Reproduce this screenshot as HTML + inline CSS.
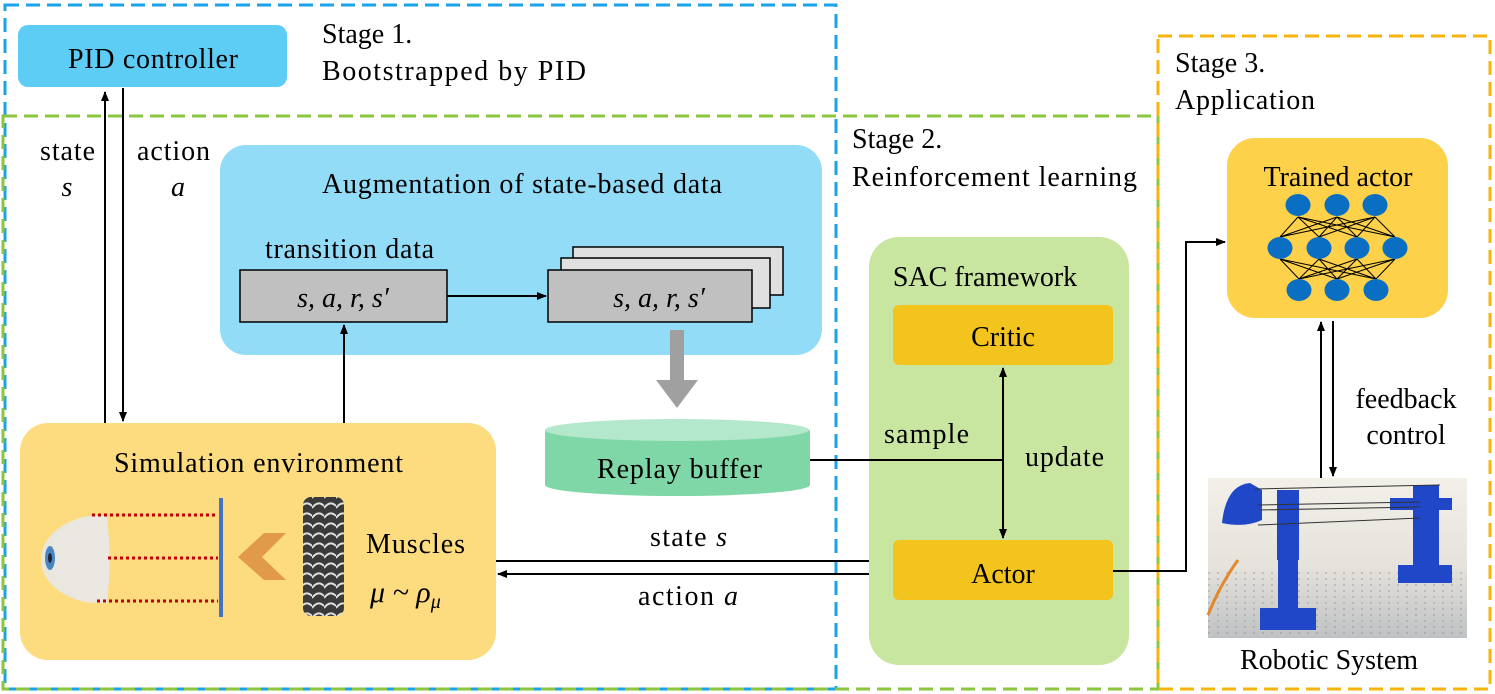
<!DOCTYPE html>
<html><head><meta charset="utf-8"><style>
html,body{margin:0;padding:0;background:#fff}
svg{display:block;font-family:"Liberation Serif",serif}
</style></head><body>
<svg width="1495" height="694" viewBox="0 0 1495 694" xmlns="http://www.w3.org/2000/svg" font-size="28">
<defs>
<marker id="ah" markerWidth="10" markerHeight="10" refX="9" refY="5" orient="auto" markerUnits="userSpaceOnUse"><path d="M0,1 L10,5 L0,9 z" fill="#000"/></marker>
<linearGradient id="floor" x1="0" y1="0" x2="0" y2="1"><stop offset="0" stop-color="#f3efe9"/><stop offset="0.55" stop-color="#e6e2dc"/><stop offset="1" stop-color="#bfc2c4"/></linearGradient>
<pattern id="holes" width="9" height="6" patternUnits="userSpaceOnUse"><circle cx="3" cy="3" r="1" fill="#8a8f94"/></pattern>
<pattern id="musc" width="12" height="10" patternUnits="userSpaceOnUse"><rect width="12" height="10" fill="#3a3a3a"/><path d="M0,8 Q6,0 12,6" stroke="#ddd" stroke-width="2" fill="none"/></pattern>
</defs>

<rect x="5" y="5" width="831" height="684" fill="none" stroke="#1aa3e8" stroke-width="3" stroke-dasharray="14,7"/>
<rect x="3" y="116" width="1155" height="573" fill="none" stroke="#8cc63f" stroke-width="3" stroke-dasharray="14,7"/>
<rect x="1158" y="36" width="332" height="653" fill="none" stroke="#f6b40e" stroke-width="3" stroke-dasharray="14,7"/>

<rect x="18" y="25" width="269" height="62" rx="10" fill="#5ecdf5"/>
<text x="68" y="68" textLength="170">PID controller</text>
<text x="322" y="43">Stage 1.</text>
<text x="322" y="80" textLength="264">Bootstrapped by PID</text>

<text x="852" y="148">Stage 2.</text>
<text x="852" y="186" textLength="285">Reinforcement learning</text>
<text x="1175" y="72">Stage 3.</text>
<text x="1175" y="109" textLength="140">Application</text>

<line x1="105" y1="423" x2="105" y2="92" stroke="#000" stroke-width="2" marker-end="url(#ah)"/>
<line x1="123" y1="88" x2="123" y2="421" stroke="#000" stroke-width="2" marker-end="url(#ah)"/>
<text x="40" y="160" textLength="55">state</text>
<text x="67" y="196" text-anchor="middle" font-style="italic">s</text>
<text x="137" y="160" textLength="73">action</text>
<text x="178" y="196" text-anchor="middle" font-style="italic">a</text>

<rect x="220" y="145" width="602" height="210" rx="26" fill="#92dcf7"/>
<text x="322" y="193" textLength="400">Augmentation of state-based data</text>
<text x="265" y="258" textLength="169">transition data</text>
<rect x="240" y="270" width="207" height="52" fill="#c0c0c0" stroke="#000" stroke-width="1.5"/>
<text x="343" y="307" font-style="italic" text-anchor="middle">s, a, r, s′</text>
<rect x="573" y="247" width="210" height="48" fill="#e0e0e0" stroke="#000" stroke-width="1.5"/>
<rect x="561" y="258" width="209" height="50" fill="#e0e0e0" stroke="#000" stroke-width="1.5"/>
<rect x="548" y="270" width="204" height="52" fill="#c0c0c0" stroke="#000" stroke-width="1.5"/>
<text x="659" y="307" font-style="italic" text-anchor="middle">s, a, r, s′</text>
<line x1="447" y1="296" x2="546" y2="296" stroke="#000" stroke-width="2" marker-end="url(#ah)"/>
<line x1="344" y1="423" x2="344" y2="325" stroke="#000" stroke-width="2" marker-end="url(#ah)"/>

<rect x="670" y="330" width="14" height="50" fill="#a0a0a0"/>
<path d="M656,380 L698,380 L677,408 z" fill="#a0a0a0"/>

<path d="M545,430 L545,485 A132,11 0 0 0 810,485 L810,430 z" fill="#7fd7a8"/>
<ellipse cx="677" cy="430" rx="132" ry="11" fill="#b3e8cc"/>
<text x="597" y="478" textLength="165">Replay buffer</text>

<rect x="20" y="423" width="476" height="237" rx="28" fill="#fddc7f"/>
<text x="114" y="472" textLength="289">Simulation environment</text>
<path d="M92,516 A60,44 0 0 0 92,603 Q102,590 107,558 Q102,525 92,516 z" fill="#e9e6e0"/>
<path d="M107,516 Q60,510 47,558 Q60,605 107,603 Q112,560 107,516z" fill="#ebe8e2"/>
<ellipse cx="50" cy="558" rx="5" ry="12" fill="#4a86c0"/>
<ellipse cx="50" cy="558" rx="2" ry="5" fill="#223"/>
<g stroke="#c00000" stroke-width="3" stroke-dasharray="3,3">
<line x1="92" y1="515" x2="218" y2="515"/><line x1="108" y1="558" x2="218" y2="558"/><line x1="97" y1="601" x2="218" y2="601"/></g>
<line x1="221" y1="498" x2="221" y2="617" stroke="#4472c4" stroke-width="4"/>
<path d="M286,533 L264,533 L238,557 L264,580 L286,580 L262,557 z" fill="#e09a48"/>
<rect x="303" y="497" width="41" height="119" rx="8" fill="url(#musc)"/>
<text x="366" y="553" textLength="99">Muscles</text>
<text x="370" y="602" font-style="italic" font-size="30">μ ~ ρ<tspan font-size="20" dy="6">μ</tspan></text>

<line x1="496" y1="561" x2="891" y2="561" stroke="#000" stroke-width="2" marker-end="url(#ah)"/>
<line x1="893" y1="574" x2="498" y2="574" stroke="#000" stroke-width="2" marker-end="url(#ah)"/>
<text x="650" y="546" textLength="77">state <tspan font-style="italic">s</tspan></text>
<text x="638" y="605" textLength="100">action <tspan font-style="italic">a</tspan></text>

<rect x="869" y="237" width="260" height="428" rx="30" fill="#c9e6a1"/>
<text x="985" y="286" text-anchor="middle">SAC framework</text>
<rect x="893" y="305" width="220" height="60" rx="6" fill="#f3c31e"/>
<text x="1003" y="346" text-anchor="middle">Critic</text>
<rect x="893" y="540" width="220" height="60" rx="6" fill="#f3c31e"/>
<text x="1003" y="583" text-anchor="middle">Actor</text>
<line x1="810" y1="460" x2="1003" y2="460" stroke="#000" stroke-width="2"/>
<line x1="1003" y1="452" x2="1003" y2="368" stroke="#000" stroke-width="2" marker-end="url(#ah)"/>
<line x1="1003" y1="452" x2="1003" y2="538" stroke="#000" stroke-width="2" marker-end="url(#ah)"/>
<text x="884" y="443" textLength="85">sample</text>
<text x="1025" y="466" textLength="79">update</text>

<polyline points="1113,571 1186,571 1186,242 1225,242" fill="none" stroke="#000" stroke-width="2" marker-end="url(#ah)"/>

<rect x="1227" y="138" width="221" height="180" rx="28" fill="#fdd14a"/>
<text x="1338" y="186" text-anchor="middle">Trained actor</text>
<g stroke="#000" stroke-width="1">
<path d="M1298,217 L1280,237 M1298,217 L1319,237 M1298,217 L1357,237 M1298,217 L1395,237 M1337,217 L1280,237 M1337,217 L1319,237 M1337,217 L1357,237 M1337,217 L1395,237 M1375,217 L1280,237 M1375,217 L1319,237 M1375,217 L1357,237 M1375,217 L1395,237"/>
<path d="M1280,259 L1299,279 M1280,259 L1337,279 M1280,259 L1376,279 M1319,259 L1299,279 M1319,259 L1337,279 M1319,259 L1376,279 M1357,259 L1299,279 M1357,259 L1337,279 M1357,259 L1376,279 M1395,259 L1299,279 M1395,259 L1337,279 M1395,259 L1376,279"/>
</g>
<g fill="#0a6fc2">
<ellipse cx="1298" cy="205" rx="12.5" ry="11"/><ellipse cx="1337" cy="205" rx="12.5" ry="11"/><ellipse cx="1375" cy="205" rx="12.5" ry="11"/>
<ellipse cx="1280" cy="248" rx="12.5" ry="11"/><ellipse cx="1319" cy="248" rx="12.5" ry="11"/><ellipse cx="1357" cy="248" rx="12.5" ry="11"/><ellipse cx="1395" cy="248" rx="12.5" ry="11"/>
<ellipse cx="1299" cy="290" rx="12.5" ry="11"/><ellipse cx="1337" cy="290" rx="12.5" ry="11"/><ellipse cx="1376" cy="290" rx="12.5" ry="11"/>
</g>

<line x1="1321" y1="478" x2="1321" y2="322" stroke="#000" stroke-width="2" marker-end="url(#ah)"/>
<line x1="1333" y1="321" x2="1333" y2="476" stroke="#000" stroke-width="2" marker-end="url(#ah)"/>
<text x="1406" y="408" text-anchor="middle">feedback</text>
<text x="1406" y="444" text-anchor="middle">control</text>

<rect x="1208" y="478" width="259" height="160" fill="url(#floor)"/>
<rect x="1208" y="570" width="259" height="68" fill="url(#holes)" opacity="0.5"/>
<g fill="#1f47c8">
<path d="M1222,523 Q1226,485 1250,483 L1262,490 L1262,520 Q1245,528 1222,523z"/>
<rect x="1277" y="490" width="22" height="70"/>
<rect x="1278" y="555" width="20" height="60"/>
<rect x="1260" y="608" width="56" height="22"/>
<rect x="1413" y="485" width="26" height="80"/>
<rect x="1398" y="565" width="54" height="18"/>
<rect x="1390" y="498" width="62" height="12"/>
</g>
<g stroke="#333" stroke-width="1"><line x1="1255" y1="489" x2="1440" y2="485"/><line x1="1258" y1="505" x2="1420" y2="502"/><line x1="1260" y1="510" x2="1420" y2="507"/><line x1="1258" y1="525" x2="1420" y2="518"/></g>
<path d="M1208,615 Q1220,585 1238,560" stroke="#e08a2c" stroke-width="3" fill="none"/>
<text x="1329" y="669" text-anchor="middle">Robotic System</text>
</svg>
</body></html>
